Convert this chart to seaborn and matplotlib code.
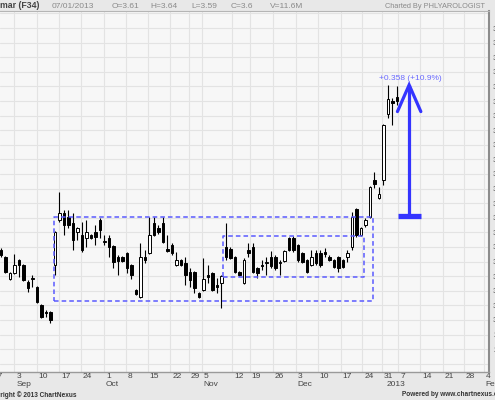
import matplotlib
matplotlib.use("Agg")
import matplotlib.pyplot as plt
import matplotlib.transforms as mtransforms
import pandas as pd
import seaborn as sns

# ---------------- data ----------------
opens = [3.192, 3.173, 3.112, 3.129, 3.164, 3.151, 3.104, 3.112, 3.090, 3.041,
         3.022, 3.022, 3.151, 3.274, 3.293, 3.282, 3.266, 3.241, 3.233, 3.225,
         3.233, 3.241, 3.274, 3.214, 3.225, 3.203, 3.173, 3.173, 3.184, 3.151,
         3.082, 3.063, 3.173, 3.184, 3.266, 3.252, 3.266, 3.195, 3.205, 3.151,
         3.164, 3.156, 3.132, 3.132, 3.074, 3.082, 3.123, 3.129, 3.096, 3.101,
         3.200, 3.195, 3.173, 3.132, 3.101, 3.192, 3.200, 3.142, 3.151, 3.156,
         3.173, 3.173, 3.156, 3.162, 3.225, 3.225, 3.205, 3.184, 3.164, 3.151,
         3.184, 3.184, 3.186, 3.173, 3.164, 3.173, 3.164, 3.173, 3.200, 3.304,
         3.233, 3.260, 3.282, 3.384, 3.334, 3.384, 3.564, 3.600, 3.610]
highs = [3.197, 3.175, 3.132, 3.181, 3.167, 3.153, 3.110, 3.123, 3.093, 3.044,
         3.027, 3.025, 3.244, 3.351, 3.301, 3.301, 3.293, 3.255, 3.268, 3.274,
         3.236, 3.260, 3.279, 3.233, 3.233, 3.206, 3.178, 3.175, 3.186, 3.153,
         3.085, 3.211, 3.192, 3.282, 3.282, 3.260, 3.282, 3.233, 3.211, 3.186,
         3.167, 3.173, 3.142, 3.134, 3.077, 3.170, 3.151, 3.132, 3.115, 3.123,
         3.266, 3.200, 3.175, 3.134, 3.170, 3.211, 3.211, 3.145, 3.164, 3.173,
         3.189, 3.178, 3.164, 3.192, 3.228, 3.230, 3.208, 3.186, 3.167, 3.192,
         3.192, 3.192, 3.197, 3.178, 3.167, 3.175, 3.167, 3.192, 3.296, 3.307,
         3.255, 3.279, 3.367, 3.405, 3.364, 3.537, 3.644, 3.608, 3.640]
lows = [3.173, 3.129, 3.110, 3.126, 3.118, 3.107, 3.077, 3.090, 3.047, 3.005,
        3.008, 2.992, 3.123, 3.268, 3.233, 3.252, 3.192, 3.219, 3.186, 3.200,
        3.222, 3.205, 3.225, 3.205, 3.173, 3.142, 3.123, 3.160, 3.129, 3.112,
        3.068, 3.060, 3.156, 3.181, 3.230, 3.236, 3.211, 3.186, 3.178, 3.148,
        3.148, 3.096, 3.090, 3.074, 3.060, 3.080, 3.101, 3.079, 3.074, 3.033,
        3.164, 3.167, 3.129, 3.120, 3.099, 3.173, 3.129, 3.115, 3.137, 3.123,
        3.142, 3.137, 3.123, 3.159, 3.189, 3.186, 3.159, 3.156, 3.129, 3.148,
        3.151, 3.145, 3.173, 3.162, 3.142, 3.132, 3.142, 3.159, 3.192, 3.227,
        3.230, 3.255, 3.279, 3.362, 3.332, 3.370, 3.553, 3.534, 3.590]
closes = [3.178, 3.132, 3.129, 3.151, 3.151, 3.110, 3.088, 3.112, 3.049, 3.008,
          3.019, 3.000, 3.241, 3.293, 3.260, 3.260, 3.219, 3.252, 3.192, 3.241,
          3.225, 3.227, 3.247, 3.214, 3.200, 3.159, 3.162, 3.162, 3.142, 3.123,
          3.071, 3.173, 3.164, 3.233, 3.233, 3.241, 3.214, 3.189, 3.184, 3.164,
          3.151, 3.123, 3.110, 3.088, 3.063, 3.112, 3.118, 3.082, 3.090, 3.121,
          3.173, 3.170, 3.132, 3.123, 3.164, 3.184, 3.132, 3.129, 3.148, 3.159,
          3.148, 3.142, 3.156, 3.189, 3.192, 3.192, 3.164, 3.159, 3.132, 3.173,
          3.156, 3.151, 3.181, 3.164, 3.145, 3.142, 3.145, 3.184, 3.282, 3.233,
          3.252, 3.274, 3.364, 3.373, 3.345, 3.534, 3.605, 3.595, 3.600]

week_ticks = [-2, 2.96, 7.9, 12.9, 17.8, 22.9, 27.7, 32.6, 37.6, 41.8, 44.6,
              51.4, 55.3, 60.4, 65.5, 70.4, 75.5, 80.3, 84.6, 88.3, 93.1, 98.2,
              102.9, 107.3]
week_labels = ["27", "3", "10", "17", "24", "1", "8", "15", "22", "29", "5",
               "12", "19", "26", "3", "10", "17", "24", "31", "7", "14", "21",
               "28", "4"]
month_ticks = [2.96, 22.9, 44.6, 65.5, 85.2, 107.3]
month_labels = ["Sep", "Oct", "Nov", "Dec", "2013", "Feb"]
price_ticks = [2.88, 2.92, 2.96, 3.00, 3.04, 3.08, 3.12, 3.16, 3.20, 3.24,
               3.28, 3.32, 3.36, 3.40, 3.44, 3.48, 3.52, 3.56, 3.60, 3.64,
               3.68, 3.72, 3.76, 3.80, 3.84]
price_labels = ["", "2.92", "2.96", "3.00", "3.04", "3.08", "3.12", "3.16",
                "3.20", "3.24", "3.28", "3.32", "3.36", "3.40", "3.44", "3.48",
                "3.52", "3.56", "3.60", "3.64", "3.68", "3.72", "3.76", "3.80", ""]

big_box_x = [11.8, 82.7]
big_box_y = [3.052, 3.283]
small_box_x = [49.3, 80.7]
small_box_y = [3.119, 3.230]
arrow_x = 90.7
arrow_low = 3.285
arrow_high = 3.644
arrow_head_y = 3.571
change_label = "+0.358 (+10.9%)"

header_left = "mar (F34)"
header_items = [("07/01/2013", 52), ("O=3.61", 112), ("H=3.64", 150),
                ("L=3.59", 191), ("C=3.6", 231), ("V=11.6M", 270)]
header_right = "Charted By PHLYAROLOGIST"

# ---------------- style ----------------
sns.set_style("white")
plt.rcParams['font.family'] = ['Liberation Sans', 'DejaVu Sans']

W, H = 495, 400
fig = plt.figure(figsize=(W / 100, H / 100), dpi=100, facecolor='#e8e8e8')
ax = fig.add_axes([0, 28 / H, 489 / W, 361 / H])
ax.set_facecolor('#f7f7f7')

df = pd.DataFrame({"i": range(len(opens)), "o": opens, "h": highs,
                   "l": lows, "c": closes})
df["bot"] = df[["o", "c"]].min(axis=1)
df["ht"] = (df["c"] - df["o"]).abs().clip(lower=0.002)
up = df["c"] >= df["o"]

ax.vlines(df["i"], df["l"], df["h"], color='black', lw=0.8, zorder=3)
ax.bar(df["i"][up], df["ht"][up], bottom=df["bot"][up], width=0.6,
       facecolor='white', edgecolor='black', lw=0.7, zorder=4)
ax.bar(df["i"][~up], df["ht"][~up], bottom=df["bot"][~up], width=0.6,
       facecolor='black', edgecolor='black', lw=0.7, zorder=4)

# boxes
box_color = '#5a5aff'
for bx, by in ((big_box_x, big_box_y), (small_box_x, small_box_y)):
    ax.plot([bx[0], bx[1], bx[1], bx[0], bx[0]],
            [by[0], by[0], by[1], by[1], by[0]],
            ls=(0, (3, 2)), color=box_color, lw=1.1, zorder=5)

# arrow
arrow_color = '#3434ff'
ax.plot([arrow_x, arrow_x], [arrow_low, arrow_high], color=arrow_color,
        lw=2.3, solid_capstyle='butt', zorder=6)
ax.plot([arrow_x - 2.6, arrow_x, arrow_x + 2.6],
        [arrow_head_y, arrow_high, arrow_head_y], color=arrow_color,
        lw=2.3, solid_joinstyle='miter', zorder=6)
ax.plot([arrow_x - 2.5, arrow_x + 2.6], [arrow_low, arrow_low],
        color=arrow_color, lw=3.8, solid_capstyle='butt', zorder=6)
ax.text(arrow_x + 0.2, 3.651, change_label, ha='center', va='bottom',
        fontsize=6, color='#6a6aff', zorder=7)

# axes limits & ticks
xmin = -0.22
ax.set_xlim(xmin, xmin + 489 / 4.5)
ax.set_ylim(2.8575, 3.8466)

ax.set_yticks(price_ticks)
ax.set_yticklabels(price_labels)
ax.yaxis.tick_right()
ax.tick_params(axis='y', length=0, pad=3, labelsize=6, labelcolor='#555555')

ax.xaxis.remove_overlapping_locs = False
ax.set_xticks([t for t in week_ticks if t > xmin])
ax.set_xticklabels([])
ax.set_xticks(month_ticks, minor=True)
ax.tick_params(axis='x', which='major', length=5, width=0.8, color='#9a9a9a',
               direction='out')
ax.tick_params(axis='x', which='minor', length=12.5, width=0.8,
               color='#9a9a9a', direction='out')

ax.grid(True, which='major', color='#e3e3e3', lw=0.8, zorder=0)
ax.set_axisbelow(True)

ax.spines['left'].set_visible(False)
ax.spines['right'].set_color('#8c8c8c')
ax.spines['right'].set_linewidth(1.5)
ax.spines['bottom'].set_color('#9a9a9a')
ax.spines['bottom'].set_linewidth(1.0)
ax.spines['top'].set_color('#b5b5b5')
ax.spines['top'].set_linewidth(0.8)

# x labels
base = mtransforms.blended_transform_factory(ax.transData, ax.transAxes)
row1 = base + mtransforms.ScaledTranslation(0.02, -0.01, fig.dpi_scale_trans)
row2 = base + mtransforms.ScaledTranslation(0.02, -0.095, fig.dpi_scale_trans)
for t, lab in zip(week_ticks, week_labels):
    ax.text(t, 0, lab, transform=row1, ha='left', va='top', fontsize=6,
            color='#444444', clip_on=False)
for t, lab in zip(month_ticks, month_labels):
    ax.text(t, 0, lab, transform=row2, ha='left', va='top', fontsize=6,
            color='#444444', clip_on=False)

# header
hy = 1 - 6 / H
fig.text(0, hy, header_left, ha='left', va='center', fontsize=6.3,
         fontweight='bold', color='#444444')
for txt, px in header_items:
    fig.text(px / W, hy, txt, ha='left', va='center', fontsize=6,
             color='#8a8a8a')
fig.text(485 / W, hy, header_right, ha='right', va='center', fontsize=5.3,
         color='#8a8a8a')

# footer
fig.text(77 / W, 5 / H, "Copyright \u00a9 2013 ChartNexus", ha='right',
         va='center', fontsize=4.7, fontweight='bold', color='#333333')
fig.text(402 / W, 5 / H, "Powered by www.chartnexus.com", ha='left',
         va='center', fontsize=4.7, fontweight='bold', color='#333333')

fig.savefig("out.png", dpi=100, facecolor=fig.get_facecolor())
